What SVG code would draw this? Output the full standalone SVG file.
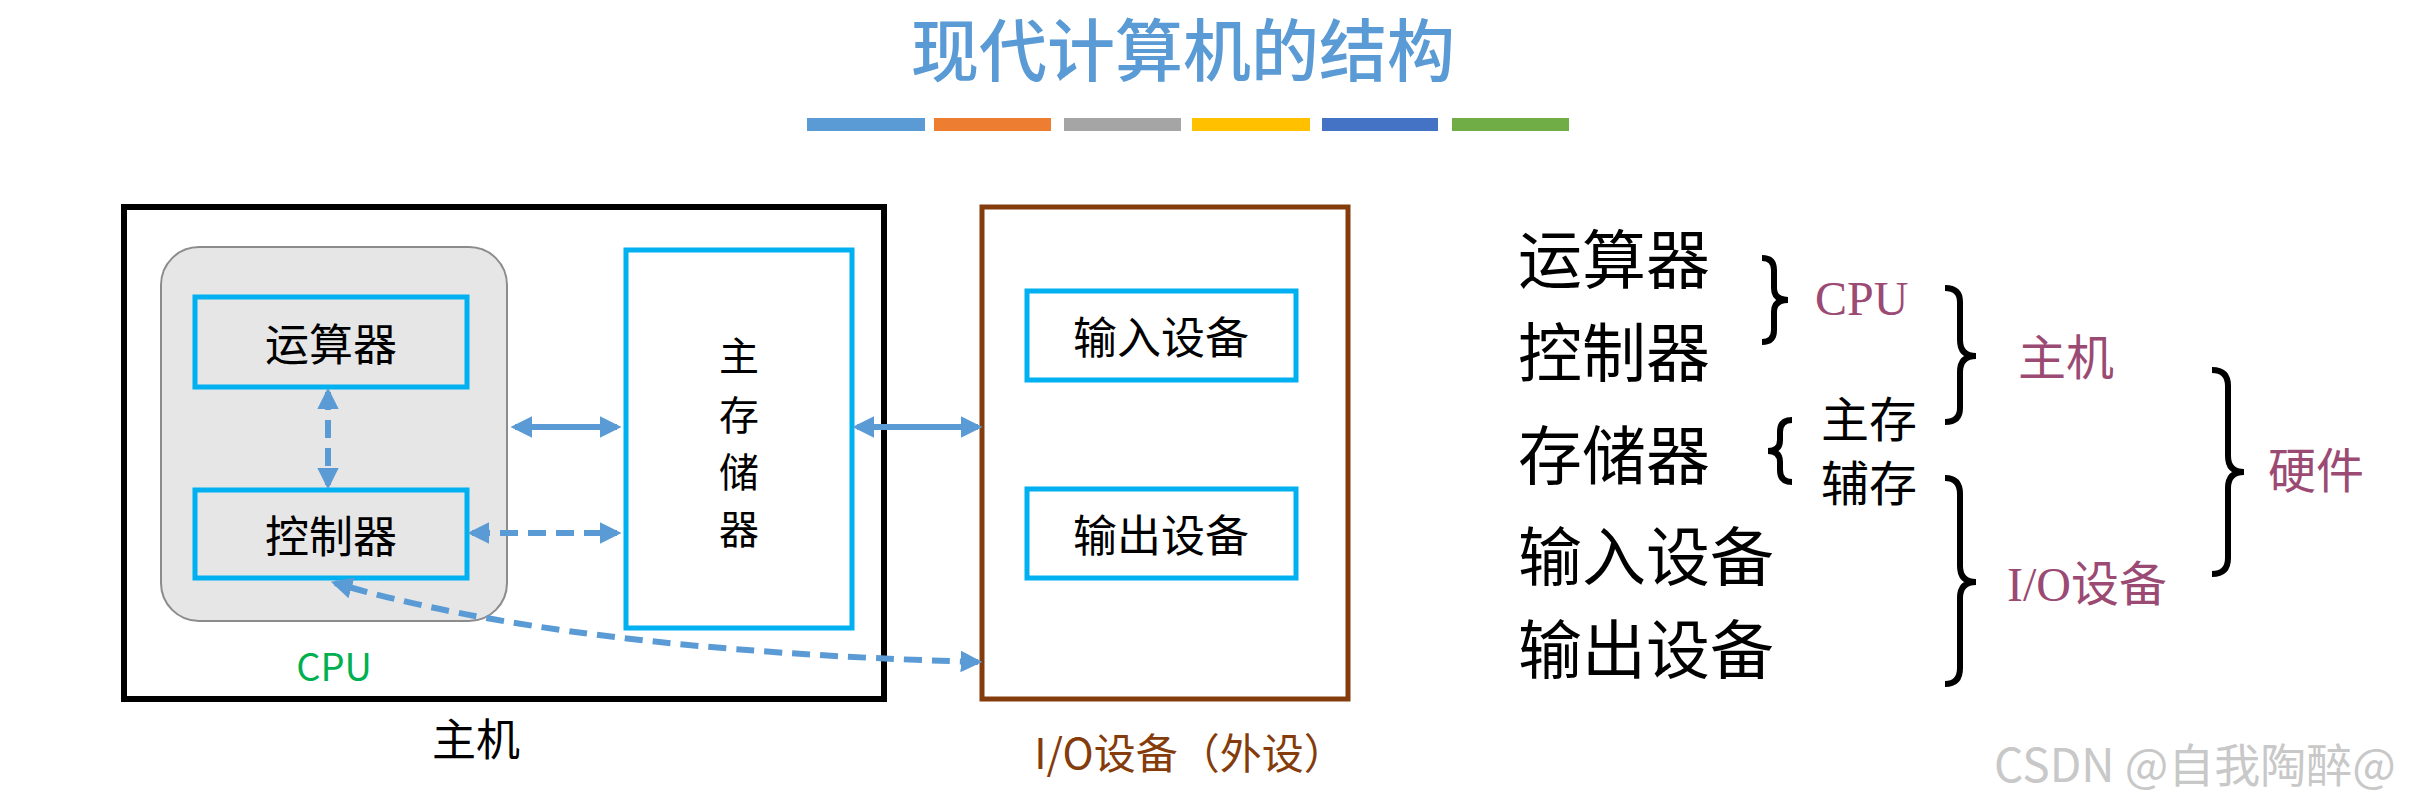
<svg xmlns="http://www.w3.org/2000/svg" width="2424" height="804" viewBox="0 0 2424 804">
<style>
.cjk{font-family:"Noto Sans CJK SC","Liberation Sans",sans-serif;dominant-baseline:central;text-anchor:middle}
.box{fill:#fff;stroke:#00B0F0;stroke-width:5}
.ar{stroke:#5B9BD5;stroke-width:6;fill:none;marker-start:url(#ah);marker-end:url(#ah)}
.dash{stroke-dasharray:18 10}
.br{fill:none;stroke:#000;stroke-width:6}
.pur{fill:#9B4A74;font-family:"Liberation Serif","Noto Sans CJK SC",serif;font-size:48px;dominant-baseline:central}
.rt{font-size:64px;fill:#000;text-anchor:start}
</style>
<defs>
<marker id="ah" viewBox="0 0 10 10" refX="8" refY="5" markerWidth="3.6" markerHeight="3.6" orient="auto-start-reverse"><path d="M0,0 L10,5 L0,10 Z" fill="#5B9BD5"/></marker>
</defs>
<rect width="2424" height="804" fill="#fff"/>
<g id="title">
<text x="1183" y="46" class="cjk" font-size="68" font-weight="500" fill="#5B9BD5">现代计算机的结构</text>
<rect x="807" y="118" width="118" height="13" fill="#5B9BD5"/>
<rect x="934" y="118" width="117" height="13" fill="#ED7D31"/>
<rect x="1064" y="118" width="117" height="13" fill="#A5A5A5"/>
<rect x="1192" y="118" width="118" height="13" fill="#FFC000"/>
<rect x="1322" y="118" width="116" height="13" fill="#4472C4"/>
<rect x="1452" y="118" width="117" height="13" fill="#70AD47"/>
</g>
<g id="host"><rect x="124" y="207" width="760" height="492" fill="none" stroke="#000" stroke-width="6"/>
<text x="476" y="737" class="cjk" font-size="44">主机</text></g>
<g id="cpu"><rect x="161" y="247" width="346" height="374" rx="38" fill="#E6E6E6" stroke="#8C8C8C" stroke-width="2"/>
<text x="334" y="664" class="cjk" font-size="38" fill="#00B050">CPU</text></g>
<g id="alu"><rect x="195" y="297" width="272" height="90" class="box" style="fill:#E6E6E6"/>
<text x="331" y="342" class="cjk" font-size="44">运算器</text></g>
<g id="cu"><rect x="195" y="490" width="272" height="88" class="box" style="fill:#E6E6E6"/>
<text x="331" y="534" class="cjk" font-size="44">控制器</text></g>
<g id="mem"><rect x="626" y="250" width="226" height="378" class="box"/>
<text x="739" y="354" class="cjk" font-size="40">主</text>
<text x="739" y="413" class="cjk" font-size="40">存</text>
<text x="739" y="470" class="cjk" font-size="40">储</text>
<text x="739" y="527" class="cjk" font-size="40">器</text></g>
<g id="io"><rect x="982" y="207" width="366" height="492" fill="none" stroke="#843C0C" stroke-width="5"/>
<text x="1190" y="750" class="cjk" font-size="42" fill="#843C0C">I/O设备（外设）</text></g>
<g id="in"><rect x="1027" y="291" width="269" height="89" class="box"/>
<text x="1161" y="335" class="cjk" font-size="44">输入设备</text></g>
<g id="out"><rect x="1027" y="489" width="269" height="89" class="box"/>
<text x="1161" y="533" class="cjk" font-size="44">输出设备</text></g>
<g id="connectors">
<path d="M328,392 L328,485" class="ar dash"/>
<path d="M515,427 L617,427" class="ar"/>
<path d="M472,533 L617,533" class="ar dash"/>
<path d="M857,427 L978,427" class="ar"/>
<path d="M978,662 Q560,650 335,583" class="ar dash"/>
</g>
<g id="summary">
<text x="1518" y="255" class="cjk rt">运算器</text>
<text x="1518" y="348" class="cjk rt">控制器</text>
<text x="1518" y="451" class="cjk rt">存储器</text>
<text x="1518" y="552" class="cjk rt">输入设备</text>
<text x="1518" y="645" class="cjk rt">输出设备</text>
<path class="br" d="M1762,258 Q1774,258 1774,270 L1774,288 Q1774,300 1788,300 Q1774,300 1774,312 L1774,330 Q1774,342 1762,342"/>
<text x="1815" y="298" class="pur">CPU</text>
<path class="br" d="M1945,288 Q1960,288 1960,302 L1960,340 Q1960,356 1976,356 Q1960,356 1960,372 L1960,408 Q1960,422 1945,422"/>
<text x="2018" y="358" class="pur">主机</text>
<path class="br" d="M1792,420 Q1780,420 1780,432 L1780,440 Q1780,451 1768,451 Q1780,451 1780,462 L1780,470 Q1780,482 1792,482"/>
<text x="1821" y="420" class="pur" style="fill:#000">主存</text>
<text x="1821" y="484" class="pur" style="fill:#000">辅存</text>
<path class="br" d="M1945,478 Q1960,478 1960,494 L1960,566 Q1960,582 1976,582 Q1960,582 1960,598 L1960,668 Q1960,684 1945,684"/>
<text x="2007" y="584" class="pur">I/O设备</text>
<path class="br" d="M2212,370 Q2228,370 2228,386 L2228,456 Q2228,472 2244,472 Q2228,472 2228,488 L2228,558 Q2228,574 2212,574"/>
<text x="2268" y="471" class="pur">硬件</text>
</g>
<text x="2195" y="762" class="cjk" font-size="46" fill="#C8C8C8">CSDN @自我陶醉@</text>
</svg>
